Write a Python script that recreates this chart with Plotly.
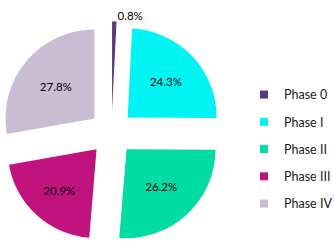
import plotly.graph_objects as go

labels = ["Phase 0", "Phase I", "Phase II", "Phase III", "Phase IV"]
values = [0.8, 24.3, 26.2, 20.9, 27.8]
colors = ["#5A3A78", "#00F4F4", "#00DCA4", "#C0137E", "#C9BCD3"]
text_positions = ["outside", "inside", "inside", "inside", "inside"]

fig = go.Figure()
fig.add_trace(go.Pie(
    labels=labels,
    values=values,
    sort=False,
    direction="clockwise",
    rotation=0,
    pull=[0.25] * len(values),
    marker=dict(colors=colors, line=dict(width=0)),
    textinfo="percent",
    texttemplate="%{percent:.1%}",
    textposition=text_positions,
    insidetextorientation="horizontal",
    textfont=dict(family="Lato", size=11.5, color="#000000"),
    showlegend=False,
    domain=dict(x=[0.0007, 0.667], y=[0.0123, 0.913]),
    hoverinfo="label+percent",
))

for lab, col in zip(labels, colors):
    fig.add_trace(go.Scatter(
        x=[None], y=[None], mode="markers", name=lab,
        legendgroup=lab,
        marker=dict(symbol="square", size=8, color=col),
    ))

fig.update_layout(
    width=334, height=247,
    margin=dict(l=0, r=0, t=0, b=0, autoexpand=False),
    paper_bgcolor="white", plot_bgcolor="white",
    xaxis=dict(visible=False), yaxis=dict(visible=False),
    legend=dict(
        x=0.7306, xanchor="left", y=0.395, yanchor="middle",
        font=dict(family="Lato", size=12.5, color="#1a1a1a"),
        tracegroupgap=8, traceorder="grouped",
        bgcolor="rgba(0,0,0,0)",
    ),
)

fig.write_html("out.html")
